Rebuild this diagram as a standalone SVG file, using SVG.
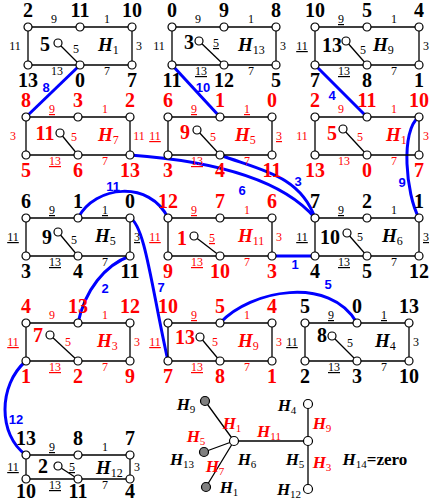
<svg xmlns="http://www.w3.org/2000/svg" width="443" height="502" viewBox="0 0 443 502">
<style>
text{font-family:"Liberation Serif","Times New Roman",serif;text-anchor:middle}
.v{font-size:20px;font-weight:bold}
.e{font-size:12px}
.u{text-decoration:underline}
.h{font-size:19px;font-weight:bold;font-style:italic;text-anchor:start}
.h tspan{font-size:12px;font-weight:normal;font-style:normal}
.R text{fill:#f00}
.ln{stroke:#000;stroke-width:1.3;fill:none}
.nd{fill:#fff;stroke:#000;stroke-width:1.2}
.gn{fill:#808080;stroke:#000;stroke-width:1.2}
.bl{stroke:#0000ff;stroke-width:3;fill:none}
.b{font-family:"Liberation Sans",Arial,sans-serif;font-size:13px;font-weight:bold;fill:#0000ff}
.t{font-size:17px;font-weight:bold;font-style:italic}
.t tspan{font-size:11px;font-weight:normal;font-style:normal}
.tr{fill:#f00}
</style>
<defs>
<g id="box"><path class="ln" d="M0,0H104V38H0Z"/><circle class="nd" cx="0" cy="0" r="4"/><circle class="nd" cx="52" cy="0" r="4"/><circle class="nd" cx="104" cy="0" r="4"/><circle class="nd" cx="0" cy="38" r="4"/><circle class="nd" cx="104" cy="38" r="4"/></g>
</defs>

<g id="connectors">
<path class="bl" d="M80,65L26,117"/>
<path class="bl" d="M172,65L220,117"/>
<path class="bl" d="M315,65L367,117"/>
<path class="bl" d="M419,117C400,130 406,195 419,218"/>
<path class="bl" d="M130,155Q270,165 315,218"/>
<path class="bl" d="M220,155C260,170 300,175 315,218"/>
<path class="bl" d="M272,256L315,256"/>
<path class="bl" d="M78,218C95,185 150,180 168,218"/>
<path class="bl" d="M130,218C145,225 152,290 168,361"/>
<path class="bl" d="M130,256C105,265 85,290 78,323"/>
<path class="bl" d="M220,323C250,290 330,275 357,323"/>
<path class="bl" d="M26,361C-2,385 -2,435 26,455"/>
<text class="b" x="46" y="92">8</text>
<text class="b" x="203" y="92">10</text>
<text class="b" x="332" y="100">4</text>
<text class="b" x="402" y="187">9</text>
<text class="b" x="242" y="195">6</text>
<text class="b" x="298" y="186">3</text>
<text class="b" x="295" y="269">1</text>
<text class="b" x="113" y="191">11</text>
<text class="b" x="161" y="292">7</text>
<text class="b" x="105" y="293">2</text>
<text class="b" x="328" y="289">5</text>
<text class="b" x="16" y="424">12</text>
</g>

<g id="B1" transform="translate(28,27)">
<path class="ln" d="M30,16L52,38"/><use href="#box"/><circle class="nd" cx="30" cy="16" r="4"/><circle class="nd" cx="52" cy="38" r="4"/>
<text class="v" x="0" y="-10">2</text><text class="v" x="52" y="-10">11</text><text class="v" x="104" y="-10">10</text>
<text class="e" x="26" y="-4">9</text><text class="e" x="79" y="-4">1</text>
<text class="e" x="-13" y="23">11</text><text class="e" x="111" y="23">3</text>
<text class="v" x="17" y="24">5</text><text class="e" x="48" y="26">5</text>
<text class="h" x="70" y="24">H<tspan dy="3">1</tspan></text>
<text class="e" x="29" y="48">13</text><text class="e" x="79" y="48">7</text>
<text class="v" x="0" y="60">13</text><text class="v" x="52" y="60">0</text><text class="v" x="104" y="60">7</text>
</g>

<g id="B2" transform="translate(172,27)">
<path class="ln" d="M27,14L52,38"/><use href="#box"/><circle class="nd" cx="27" cy="14" r="4"/><circle class="nd" cx="52" cy="38" r="4"/>
<text class="v" x="0" y="-10">0</text><text class="v" x="52" y="-10">9</text><text class="v" x="104" y="-10">8</text>
<text class="e" x="26" y="-4">9</text><text class="e" x="79" y="-4">1</text>
<text class="e" x="-13" y="23">11</text><text class="e" x="111" y="23">3</text>
<text class="v" x="17" y="22">3</text><text class="e u" x="44" y="20">5</text>
<text class="h" x="66" y="24">H<tspan dy="3">13</tspan></text>
<text class="e u" x="29" y="48">13</text><text class="e" x="79" y="48">7</text>
<text class="v" x="0" y="60">11</text><text class="v" x="52" y="60">12</text><text class="v" x="104" y="60">5</text>
</g>

<g id="B3" transform="translate(315,27)">
<path class="ln" d="M31,14L52,38"/><use href="#box"/><circle class="nd" cx="31" cy="14" r="4"/><circle class="nd" cx="52" cy="38" r="4"/>
<text class="v" x="0" y="-10">10</text><text class="v" x="52" y="-10">5</text><text class="v" x="104" y="-10">4</text>
<text class="e u" x="26" y="-4">9</text><text class="e" x="79" y="-4">1</text>
<text class="e u" x="-13" y="23">11</text><text class="e" x="111" y="23">3</text>
<text class="v" x="17" y="25">13</text><text class="e" x="48" y="27">5</text>
<text class="h" x="58" y="24">H<tspan dy="3">9</tspan></text>
<text class="e u" x="29" y="48">13</text><text class="e" x="79" y="48">7</text>
<text class="v" x="0" y="60">7</text><text class="v" x="52" y="60">8</text><text class="v" x="104" y="60">1</text>
</g>

<g id="B4" class="R" transform="translate(26,117)">
<path class="ln" d="M34,16L52,38"/><use href="#box"/><circle class="nd" cx="34" cy="16" r="4"/><circle class="nd" cx="52" cy="38" r="4"/>
<text class="v" x="0" y="-10">8</text><text class="v" x="52" y="-10">3</text><text class="v" x="104" y="-10">2</text>
<text class="e u" x="26" y="-4">9</text><text class="e" x="79" y="-4">1</text>
<text class="e" x="-13" y="23">3</text><text class="e" x="113" y="23">11</text>
<text class="v" x="19" y="23">11</text><text class="e" x="48" y="24">5</text>
<text class="h" x="72" y="24">H<tspan dy="3">7</tspan></text>
<text class="e u" x="29" y="48">13</text><text class="e" x="79" y="48">7</text>
<text class="v" x="0" y="60">5</text><text class="v" x="52" y="60">6</text><text class="v" x="104" y="60">13</text>
</g>

<g id="B5" class="R" transform="translate(168,117)">
<path class="ln" d="M29,13L52,38"/><use href="#box"/><circle class="nd" cx="29" cy="13" r="4"/><circle class="nd" cx="52" cy="38" r="4"/>
<text class="v" x="0" y="-10">6</text><text class="v" x="52" y="-10">1</text><text class="v" x="104" y="-10">0</text>
<text class="e u" x="26" y="-4">9</text><text class="e u" x="79" y="-4">1</text>
<text class="e u" x="-13" y="23">11</text><text class="e u" x="111" y="23">3</text>
<text class="v" x="17" y="22">9</text><text class="e" x="45" y="24">5</text>
<text class="h" x="67" y="24">H<tspan dy="3">5</tspan></text>
<text class="e u" x="29" y="48">13</text><text class="e" x="79" y="48">7</text>
<text class="v" x="0" y="60">3</text><text class="v" x="52" y="60">4</text><text class="v" x="104" y="60">11</text>
</g>

<g id="B6" class="R" transform="translate(315,117)">
<path class="ln" d="M28,12L52,38"/><use href="#box"/><circle class="nd" cx="28" cy="12" r="4"/><circle class="nd" cx="52" cy="38" r="4"/>
<text class="v" x="0" y="-10">2</text><text class="v" x="52" y="-10">11</text><text class="v" x="104" y="-10">10</text>
<text class="e" x="26" y="-4">9</text><text class="e" x="79" y="-4">1</text>
<text class="e" x="-13" y="23">11</text><text class="e" x="111" y="23">3</text>
<text class="v" x="17" y="23">5</text><text class="e" x="45" y="24">5</text>
<text class="h" x="71" y="24">H<tspan dy="3">1</tspan></text>
<text class="e" x="29" y="48">13</text><text class="e" x="79" y="48">7</text>
<text class="v" x="0" y="60">13</text><text class="v" x="52" y="60">0</text><text class="v" x="104" y="60">7</text>
</g>

<g id="B7" transform="translate(26,218)">
<path class="ln" d="M32,14L52,38"/><use href="#box"/><circle class="nd" cx="32" cy="14" r="4"/><circle class="nd" cx="52" cy="38" r="4"/>
<text class="v" x="0" y="-10">6</text><text class="v" x="52" y="-10">1</text><text class="v" x="104" y="-10">0</text>
<text class="e u" x="26" y="-4">9</text><text class="e u" x="79" y="-4">1</text>
<text class="e u" x="-13" y="23">11</text><text class="e u" x="111" y="23">3</text>
<text class="v" x="21" y="26">9</text><text class="e" x="48" y="26">5</text>
<text class="h" x="69" y="24">H<tspan dy="3">5</tspan></text>
<text class="e u" x="29" y="48">13</text><text class="e" x="79" y="48">7</text>
<text class="v" x="0" y="60">3</text><text class="v" x="52" y="60">4</text><text class="v" x="104" y="60">11</text>
</g>

<g id="B8" class="R" transform="translate(168,218)">
<path class="ln" d="M26,18L52,38"/><use href="#box"/><circle class="nd" cx="26" cy="18" r="4"/><circle class="nd" cx="52" cy="38" r="4"/>
<text class="v" x="0" y="-10">12</text><text class="v" x="52" y="-10">7</text><text class="v" x="104" y="-10">6</text>
<text class="e u" x="26" y="-4">9</text><text class="e" x="79" y="-4">1</text>
<text class="e u" x="-13" y="23">11</text><text class="e" x="111" y="23">3</text>
<text class="v" x="14" y="27">1</text><text class="e u" x="44" y="24">5</text>
<text class="h" x="70" y="24">H<tspan dy="3">11</tspan></text>
<text class="e u" x="29" y="48">13</text><text class="e" x="79" y="48">7</text>
<text class="v" x="0" y="60">9</text><text class="v" x="52" y="60">10</text><text class="v" x="104" y="60">3</text>
</g>

<g id="B9" transform="translate(315,218)">
<path class="ln" d="M32,15L52,38"/><use href="#box"/><circle class="nd" cx="32" cy="15" r="4"/><circle class="nd" cx="52" cy="38" r="4"/>
<text class="v" x="0" y="-10">7</text><text class="v" x="52" y="-10">2</text><text class="v" x="104" y="-10">1</text>
<text class="e u" x="26" y="-4">9</text><text class="e" x="79" y="-4">1</text>
<text class="e u" x="-13" y="23">11</text><text class="e u" x="111" y="23">3</text>
<text class="v" x="15" y="26">10</text><text class="e" x="45" y="23">5</text>
<text class="h" x="67" y="24">H<tspan dy="3">6</tspan></text>
<text class="e u" x="29" y="48">13</text><text class="e" x="79" y="48">7</text>
<text class="v" x="0" y="60">4</text><text class="v" x="52" y="60">5</text><text class="v" x="104" y="60">12</text>
</g>

<g id="B10" class="R" transform="translate(26,323)">
<path class="ln" d="M24,12L52,38"/><use href="#box"/><circle class="nd" cx="24" cy="12" r="4"/><circle class="nd" cx="52" cy="38" r="4"/>
<text class="v" x="0" y="-10">4</text><text class="v" x="52" y="-10">13</text><text class="v" x="104" y="-10">12</text>
<text class="e" x="26" y="-4">9</text><text class="e" x="79" y="-4">1</text>
<text class="e u" x="-13" y="23">11</text><text class="e" x="111" y="23">3</text>
<text class="v" x="12" y="19">7</text><text class="e" x="42" y="23">5</text>
<text class="h" x="71" y="24">H<tspan dy="3">3</tspan></text>
<text class="e u" x="29" y="48">13</text><text class="e" x="79" y="48">7</text>
<text class="v" x="0" y="60">1</text><text class="v" x="52" y="60">2</text><text class="v" x="104" y="60">9</text>
</g>

<g id="B11" class="R" transform="translate(168,323)">
<path class="ln" d="M32,14L52,38"/><use href="#box"/><circle class="nd" cx="32" cy="14" r="4"/><circle class="nd" cx="52" cy="38" r="4"/>
<text class="v" x="0" y="-10">10</text><text class="v" x="52" y="-10">5</text><text class="v" x="104" y="-10">4</text>
<text class="e u" x="26" y="-4">9</text><text class="e" x="79" y="-4">1</text>
<text class="e u" x="-13" y="23">11</text><text class="e" x="111" y="23">3</text>
<text class="v" x="17" y="21">13</text><text class="e" x="47" y="23">5</text>
<text class="h" x="70" y="24">H<tspan dy="3">9</tspan></text>
<text class="e u" x="29" y="48">13</text><text class="e" x="79" y="48">7</text>
<text class="v" x="0" y="60">7</text><text class="v" x="52" y="60">8</text><text class="v" x="104" y="60">1</text>
</g>

<g id="B12" transform="translate(305,323)">
<path class="ln" d="M27,13L52,38"/><use href="#box"/><circle class="nd" cx="27" cy="13" r="4"/><circle class="nd" cx="52" cy="38" r="4"/>
<text class="v" x="0" y="-10">5</text><text class="v" x="52" y="-10">0</text><text class="v" x="104" y="-10">13</text>
<text class="e u" x="26" y="-4">9</text><text class="e u" x="79" y="-4">1</text>
<text class="e u" x="-13" y="23">11</text><text class="e" x="111" y="23">3</text>
<text class="v" x="17" y="19">8</text><text class="e" x="45" y="24">5</text>
<text class="h" x="70" y="24">H<tspan dy="3">4</tspan></text>
<text class="e u" x="29" y="48">13</text><text class="e" x="79" y="48">7</text>
<text class="v" x="0" y="60">2</text><text class="v" x="52" y="60">3</text><text class="v" x="104" y="60">10</text>
</g>

<g id="B13" transform="translate(26,455)">
<path class="ln" d="M32,11L52,24"/><path class="ln" d="M0,0H104V24H0Z"/>
<circle class="nd" cx="0" cy="0" r="4"/><circle class="nd" cx="52" cy="0" r="4"/><circle class="nd" cx="104" cy="0" r="4"/><circle class="nd" cx="0" cy="24" r="4"/><circle class="nd" cx="104" cy="24" r="4"/>
<circle class="nd" cx="32" cy="11" r="4"/><circle class="nd" cx="52" cy="24" r="4"/>
<text class="v" x="0" y="-10">13</text><text class="v" x="52" y="-10">8</text><text class="v" x="104" y="-10">7</text>
<text class="e u" x="26" y="-4">9</text><text class="e" x="79" y="-4">1</text>
<text class="e u" x="-13" y="16">11</text><text class="e" x="111" y="16">3</text>
<text class="v" x="17" y="18">2</text><text class="e u" x="46" y="16">5</text>
<text class="h" x="70" y="19">H<tspan dy="3">12</tspan></text>
<text class="e u" x="29" y="34">13</text><text class="e" x="79" y="34">7</text>
<text class="v" x="0" y="43">10</text><text class="v" x="52" y="43">11</text><text class="v" x="104" y="43">4</text>
</g>

<g id="tree">
<path class="ln" d="M234,441L205,401M234,441L204,452M234,441L206,487M234,441H308M308,404V489"/>
<circle class="gn" cx="205" cy="401" r="4.5"/>
<circle class="gn" cx="204" cy="452" r="4.5"/>
<circle class="gn" cx="206" cy="487" r="4.5"/>
<circle class="nd" cx="234" cy="441" r="4.5"/>
<circle class="nd" cx="308" cy="441" r="4.5"/>
<circle class="nd" cx="308" cy="404" r="4.5"/>
<circle class="nd" cx="308" cy="489" r="4.5"/>
<text class="t" x="186" y="410">H<tspan dy="3">9</tspan></text>
<text class="t" x="182" y="465">H<tspan dy="3">13</tspan></text>
<text class="t" x="229" y="493">H<tspan dy="3">1</tspan></text>
<text class="t" x="247" y="465">H<tspan dy="3">6</tspan></text>
<text class="t" x="295" y="465">H<tspan dy="3">5</tspan></text>
<text class="t" x="287" y="411">H<tspan dy="3">4</tspan></text>
<text class="t" x="289" y="495">H<tspan dy="3">12</tspan></text>
<text class="t tr" x="232" y="429">H<tspan dy="3">1</tspan></text>
<text class="t tr" x="196" y="442">H<tspan dy="3">5</tspan></text>
<text class="t tr" x="215" y="472">H<tspan dy="3">7</tspan></text>
<text class="t tr" x="269" y="437">H<tspan dy="3">11</tspan></text>
<text class="t tr" x="322" y="429">H<tspan dy="3">9</tspan></text>
<text class="t tr" x="322" y="468">H<tspan dy="3">3</tspan></text>
<text class="t" x="375" y="465">H<tspan dy="3">14</tspan><tspan dy="-3" style="font-size:17px;font-weight:bold">=zero</tspan></text>
</g>
</svg>
